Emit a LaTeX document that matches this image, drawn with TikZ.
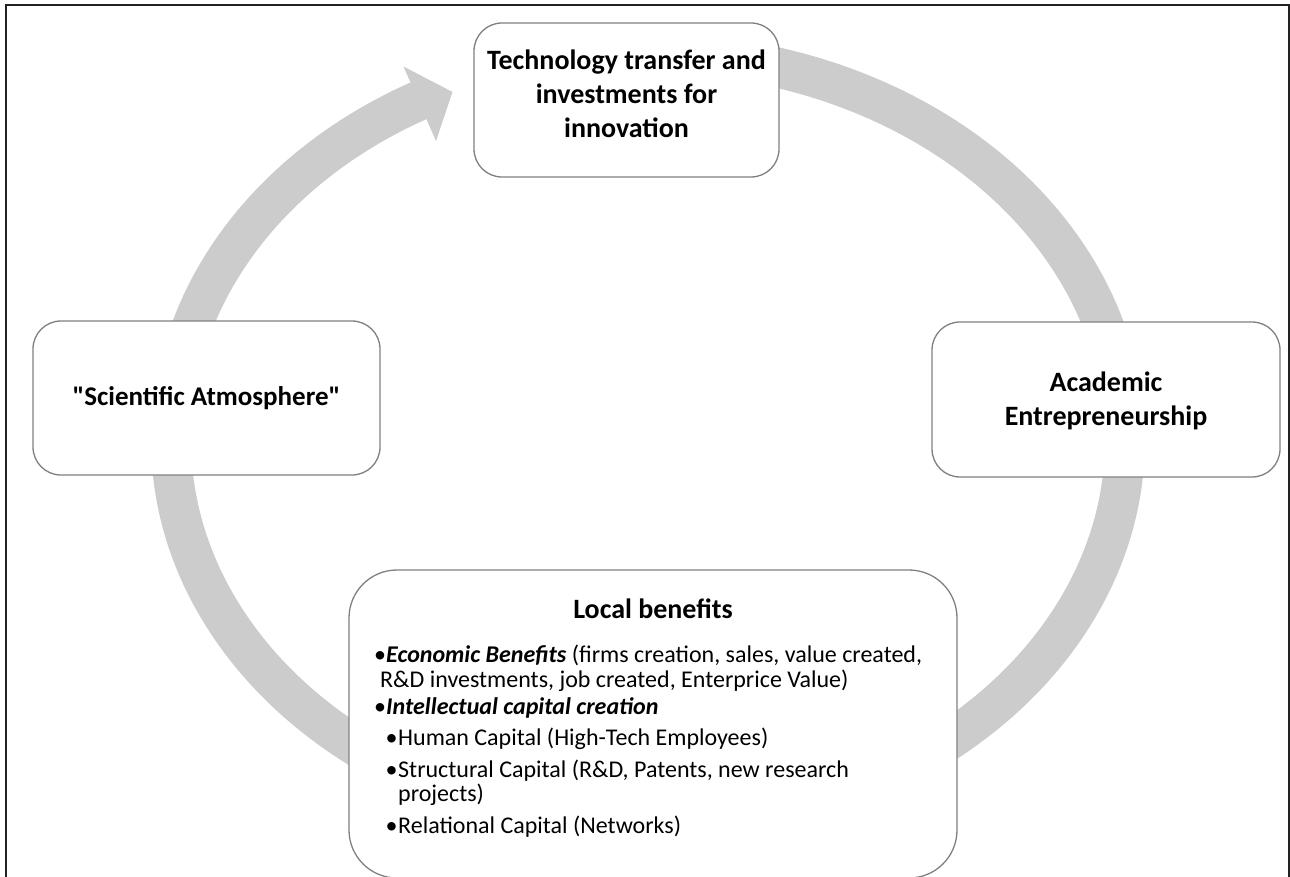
\documentclass[tikz,border=0pt]{standalone}
\usepackage{fontspec}
\setmainfont{Carlito}[Ligatures=TeXOff]
\definecolor{boxgray}{HTML}{808080}
\definecolor{ringgray}{HTML}{CCCCCC}
\definecolor{framecol}{HTML}{222222}
\begin{document}
\begin{tikzpicture}[x=1pt,y=-1pt,
  box/.style={draw=boxgray, line width=1.3pt, fill=white, rounded corners=28pt, inner sep=0pt},
  title/.style={font=\fontsize{28}{34}\selectfont\bfseries, align=center, inner sep=0pt},
  body/.style={font=\fontsize{24}{29}\selectfont, inner sep=0pt, anchor=base west},
  bul/.style={font=\fontsize{24}{29}\selectfont, inner sep=0pt, anchor=base},
  ring/.style={draw=ringgray, line width=40pt}]
\useasboundingbox (0,0) rectangle (1290,877);
% outer frame (bottom edge lies outside the picture)
\draw[line width=2pt, color=framecol] (6,920) -- (6,5) -- (1289,5) -- (1289,920);
% cycle ring
\draw[ring] plot[domain=265:601.5, samples=160, smooth] ({648+477*cos(\x)}, {440+387*sin(\x)});
\fill[ringgray] (403.5,66.5) -- (452.5,92) -- (436,141) -- cycle;
% boxes
\node[box, minimum width=305pt, minimum height=154pt] (tech) at (626.5,100) {};
\node[title] (techT) at (626.5,94) {Technology transfer and\\investments for\\innovation};
\node[box, minimum width=347pt, minimum height=154pt] (sci) at (206.5,398) {};
\node[title, font=\fontsize{27}{33}\selectfont\bfseries] (sciT) at (206.5,398) {"Scientific Atmosphere"};
\node[box, minimum width=348pt, minimum height=155pt] (acad) at (1106,399.5) {};
\node[title] (acadT) at (1106,401) {Academic\\Entrepreneurship};
\node[box, rounded corners=48pt, minimum width=608pt, minimum height=308pt] (local) at (653,724) {};
% bottom box text
\node[title, anchor=base] (lbt) at (653,618) {Local benefits};
\node[bul] (b1) at (380,662) {•};
\node[body] (t1) at (386,662) {\textbf{\textit{Economic Benefits}} (firms creation, sales, value created,};
\node[body] (t1b) at (380,687) {R\&D investments, job created, Enterprice Value)};
\node[bul] (b2) at (380,714) {•};
\node[body] (t2) at (386,714) {\textbf{\textit{Intellectual capital creation}}};
\node[bul] (b3) at (391.5,745) {•};
\node[body] (t3) at (398,745) {Human Capital (High-Tech Employees)};
\node[bul] (b4) at (391.5,777) {•};
\node[body] (t4) at (398,777) {Structural Capital (R\&D, Patents, new research};
\node[body] (t4b) at (398,801) {projects)};
\node[bul] (b5) at (391.5,833) {•};
\node[body] (t5) at (398,833) {Relational Capital (Networks)};
\end{tikzpicture}
\end{document}
